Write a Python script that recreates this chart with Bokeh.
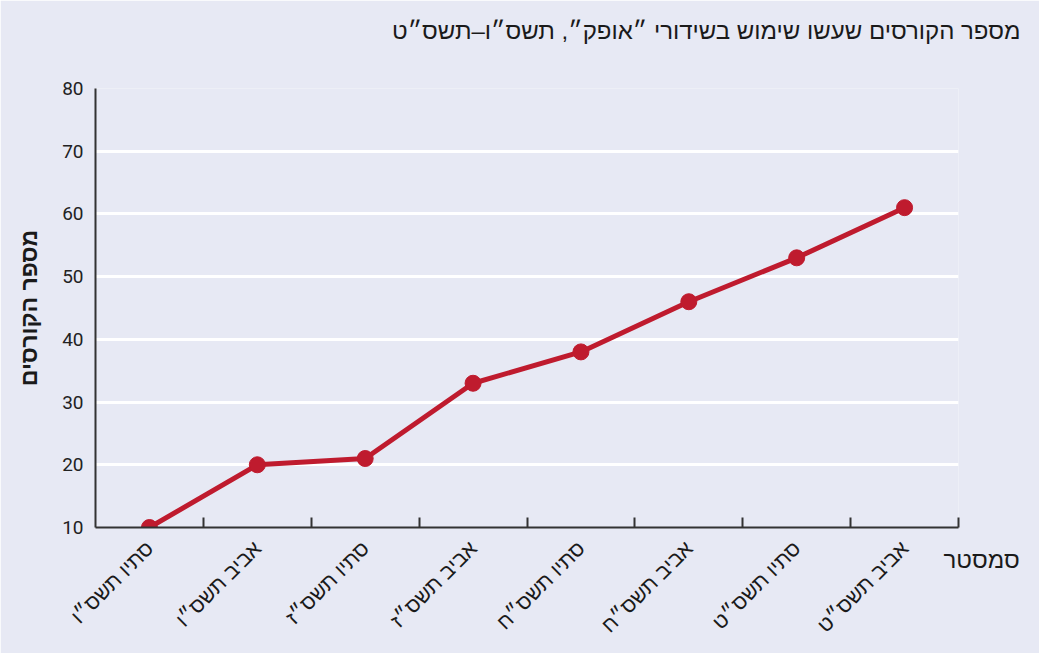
import math
from bokeh.plotting import figure
from bokeh.models import Range1d, FixedTicker, Title, ColumnDataSource, LinearAxis
from bokeh.embed import file_html
from bokeh.resources import INLINE

# ---- data ----
semesters = ["סתיו תשס״ו", "אביב תשס״ו", "סתיו תשס״ז", "אביב תשס״ז",
             "סתיו תשס״ח", "אביב תשס״ח", "סתיו תשס״ט", "אביב תשס״ט"]
courses = [10, 20, 21, 33, 38, 46, 53, 61]
y_ticks = [10, 20, 30, 40, 50, 60, 70, 80]
title_text = "מספר הקורסים שעשו שימוש בשידורי ״אופק״, תשס״ו–תשס״ט"
y_label = "מספר הקורסים"
x_label = "סמסטר"

BG = "#E7E9F4"
RED = "#BF1B2E"
DARK = "#333333"
TXT = "#1a1a1a"
HEB = "Liberation Sans"
NUM = "Roboto"

xs = [i + 0.5 for i in range(len(semesters))]
src = ColumnDataSource(dict(x=xs, y=courses))

p = figure(width=1039, height=653, output_backend="svg", toolbar_location=None,
           x_range=Range1d(0, len(semesters)), y_range=Range1d(10, 80))
p.title_location = None
p.min_border_left = 95
p.min_border_right = 81
p.min_border_top = 88
p.min_border_bottom = 126
p.background_fill_color = BG
p.border_fill_color = BG
p.outline_line_color = None

# spacer between frame and title, then the title itself
p.add_layout(Title(text=" ", text_font_size="2px", standoff=36), "above")
t = Title(text=title_text, align="right", offset=-62, standoff=10,
          text_font=HEB, text_font_size="24px",
          text_font_style="normal", text_color=TXT)
p.add_layout(t, "above")

# grid
p.xgrid.visible = False
p.ygrid.ticker = FixedTicker(ticks=y_ticks)
p.ygrid.grid_line_color = "white"
p.ygrid.grid_line_width = 3

# y axis
ya = p.yaxis[0]
ya.ticker = FixedTicker(ticks=y_ticks)
ya.axis_line_color = DARK
ya.axis_line_width = 2
ya.major_tick_in = 0
ya.major_tick_out = 0
ya.minor_tick_line_color = None
ya.major_label_text_font = NUM
ya.major_label_text_font_size = "19px"
ya.major_label_text_color = "#222222"
ya.major_label_standoff = 12
ya.axis_label = y_label
ya.axis_label_text_font = HEB
ya.axis_label_text_font_size = "23px"
ya.axis_label_text_font_style = "bold"
ya.axis_label_text_color = TXT
ya.axis_label_standoff = 17

# x axis
xa = p.xaxis[0]
xa.ticker = FixedTicker(ticks=xs, minor_ticks=[i + 1 for i in range(len(semesters))])
xa.major_label_overrides = {x: s for x, s in zip(xs, semesters)}
xa.axis_line_color = DARK
xa.axis_line_width = 2
xa.major_tick_in = 0
xa.major_tick_out = 0
xa.minor_tick_in = 10
xa.minor_tick_out = 0
xa.minor_tick_line_color = DARK
xa.minor_tick_line_width = 2
xa.major_label_orientation = math.pi / 4
xa.major_label_text_font = HEB
xa.major_label_text_font_size = "21px"
xa.major_label_text_color = TXT
xa.major_label_standoff = 17

# x-axis title "סמסטר", placed right of the axis end via a bare right axis
ra = LinearAxis(ticker=FixedTicker(ticks=[y_ticks[0]]),
                major_label_overrides={y_ticks[0]: "\n\n" + x_label})
ra.axis_line_color = None
ra.major_tick_line_color = None
ra.minor_tick_line_color = None
ra.major_tick_in = 0
ra.major_tick_out = 0
ra.major_label_standoff = -15
ra.major_label_text_font = HEB
ra.major_label_text_font_size = "24px"
ra.major_label_text_color = TXT
p.add_layout(ra, "right")

# line + markers
p.line("x", "y", source=src, line_color=RED, line_width=5)
p.scatter("x", "y", source=src, size=16, fill_color=RED, line_color=RED)

html = file_html(p, INLINE)
html = html.replace("<body>", '<body style="background:%s;">' % BG, 1)
open("out.html", "w").write(html)
